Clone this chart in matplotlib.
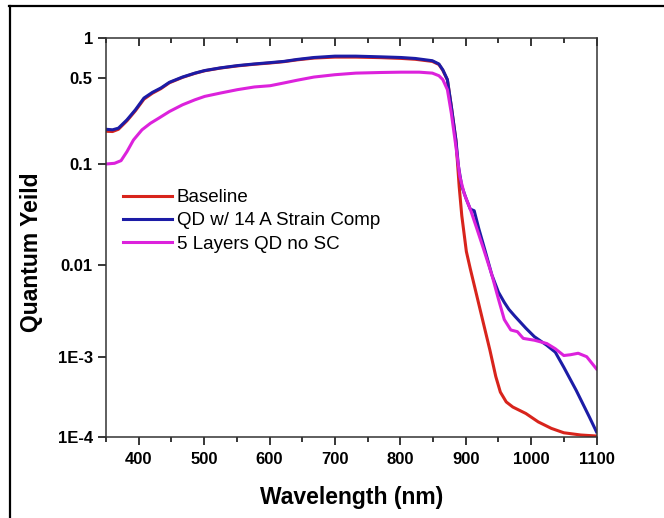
import numpy as np
import matplotlib
matplotlib.use("Agg")
from matplotlib import pyplot as plt
from matplotlib.lines import Line2D
from matplotlib.ticker import FixedLocator, MultipleLocator, NullLocator

# wavelength [nm] and quantum yield
wl_base = [350, 360, 369, 382, 395, 408, 421, 434, 447, 467, 486, 501, 525, 551, 577, 601,
           622, 642, 668, 700, 732, 771, 801, 823, 849, 859, 865, 872, 878, 885, 890, 894,
           901, 907, 917, 927, 937, 946, 953, 962, 972, 992, 1011, 1031, 1050, 1076, 1100]
qy_base = [0.185, 0.184, 0.192, 0.225, 0.272, 0.338, 0.378, 0.412, 0.460, 0.508, 0.545,
           0.570, 0.597, 0.620, 0.638, 0.652, 0.667, 0.688, 0.710, 0.722, 0.722, 0.715,
           0.706, 0.695, 0.670, 0.635, 0.575, 0.485, 0.295, 0.157, 0.0601, 0.0307, 0.0135,
           0.00902, 0.00458, 0.00232, 0.00118, 0.000565, 0.000361, 0.000272, 0.000235,
           0.000195, 0.000153, 0.000127, 0.000112, 0.000105, 0.000102]

wl_qd14 = [350, 360, 369, 382, 395, 408, 421, 434, 447, 467, 486, 501, 525, 551, 577, 601,
           622, 642, 668, 700, 732, 771, 801, 823, 849, 859, 865, 872, 878, 885, 889, 894,
           901, 907, 913, 920, 930, 940, 950, 959, 966, 975, 992, 1005, 1024, 1037, 1050,
           1069, 1089, 1100]
qy_qd14 = [0.192, 0.190, 0.196, 0.229, 0.277, 0.345, 0.384, 0.417, 0.464, 0.511, 0.547,
           0.572, 0.599, 0.623, 0.641, 0.656, 0.670, 0.693, 0.717, 0.734, 0.734, 0.725,
           0.717, 0.705, 0.678, 0.641, 0.579, 0.488, 0.295, 0.157, 0.0942, 0.0601, 0.0446,
           0.0356, 0.0343, 0.0228, 0.0135, 0.00773, 0.00503, 0.00389, 0.00327, 0.00276,
           0.00204, 0.00165, 0.00133, 0.00112, 0.000738, 0.000379, 0.000177, 0.000115]

wl_5l = [350, 363, 373, 382, 392, 405, 418, 431, 447, 467, 486, 501, 525, 551, 577, 601,
         622, 642, 668, 700, 732, 771, 801, 829, 849, 859, 865, 872, 878, 885, 891, 898,
         907, 917, 927, 940, 950, 959, 969, 979, 988, 1005, 1024, 1037, 1050, 1060, 1072,
         1085, 1100]
qy_5l = [0.100, 0.1013, 0.1065, 0.126, 0.157, 0.190, 0.215, 0.237, 0.268, 0.304, 0.334,
         0.356, 0.379, 0.404, 0.425, 0.435, 0.458, 0.482, 0.511, 0.532, 0.547, 0.553,
         0.556, 0.556, 0.547, 0.523, 0.488, 0.404, 0.260, 0.139, 0.0752, 0.0499, 0.0356,
         0.0228, 0.0145, 0.00773, 0.00424, 0.00253, 0.00195, 0.00187, 0.00158, 0.00151,
         0.00139, 0.00122, 0.00103, 0.00105, 0.00109, 0.00100, 0.000703]

labels = ["Baseline", "QD w/ 14 A Strain Comp", "5 Layers QD no SC"]
colors = ["#d8241c", "#1c1ca6", "#dc22dc"]

y_ticks = [1e-4, 1e-3, 0.01, 0.1, 0.5, 1]
y_ticklabels = ["1E-4", "1E-3", "0.01", "0.1", "0.5", "1"]

# the printed y axis is not evenly spaced per decade, so map log10(y) piecewise
_logs = np.array([-10, -4, -3, -2, -1, np.log10(0.5), 0, 3])
_frac = np.array([-1.205, 0.0, 0.2008, 0.432, 0.6845, 0.8996, 1.0, 2.0])


def fwd(y):
    y = np.clip(np.asarray(y, dtype=float), 1e-12, None)
    return np.interp(np.log10(y), _logs, _frac)


def inv(t):
    return 10 ** np.interp(np.asarray(t, dtype=float), _frac, _logs)


plt.rcParams["font.family"] = ["Liberation Sans", "DejaVu Sans"]

fig = plt.figure(figsize=(6.64, 5.18), dpi=100)
ax = fig.add_axes([106 / 664, 1 - 436.7 / 518, 490.5 / 664, 398.4 / 518])

for wl, qy, lab, c in zip([wl_base, wl_qd14, wl_5l], [qy_base, qy_qd14, qy_5l], labels, colors):
    ax.plot(wl, qy, color=c, lw=2.2, label=lab)

ax.set_yscale("function", functions=(fwd, inv))
ax.set_xlim(350, 1100)
ax.set_ylim(1e-4, 1)

ax.yaxis.set_major_locator(FixedLocator(y_ticks))
ax.yaxis.set_minor_locator(NullLocator())
ax.set_yticklabels(y_ticklabels)
ax.xaxis.set_major_locator(MultipleLocator(100))
ax.xaxis.set_minor_locator(MultipleLocator(50))

ax.tick_params(axis="both", which="major", labelsize=12, width=1.1, length=6, direction="out")
ax.tick_params(axis="x", which="major", pad=5)
ax.tick_params(axis="x", which="minor", width=1.1, length=3.5, direction="out")
ax.tick_params(axis="x", which="both", top=True)
for t in ax.xaxis.get_ticklabels():
    t.set_fontweight("bold")
for t in ax.yaxis.get_ticklabels():
    t.set_fontweight("bold")
# top ticks point inward
for tk in ax.xaxis.get_major_ticks() + ax.xaxis.get_minor_ticks():
    tk.tick2line.set_marker(3)

for s in ax.spines.values():
    s.set_linewidth(1.1)
    s.set_color("#333333")

ax.set_xlabel("Wavelength (nm)", fontsize=16.5, fontweight="bold", labelpad=14)
ax.set_ylabel("Quantum Yeild", fontsize=16.5, fontweight="bold")
ax.yaxis.set_label_coords(-0.128, 0.4636)

ax.legend(loc="upper left", bbox_to_anchor=(0.02, 0.64), frameon=False, fontsize=13.5,
          handlelength=2.6, handletextpad=0.25, labelspacing=0.32, borderaxespad=0)

# outer frame of the original picture (top and left edges only)
fig.add_artist(Line2D([9 / 664, 1], [1 - 6 / 518, 1 - 6 / 518], color="black", lw=1.6,
                      transform=fig.transFigure))
fig.add_artist(Line2D([10 / 664, 10 / 664], [0, 1 - 6 / 518], color="black", lw=1.6,
                      transform=fig.transFigure))

fig.savefig("out.png", dpi=100)
